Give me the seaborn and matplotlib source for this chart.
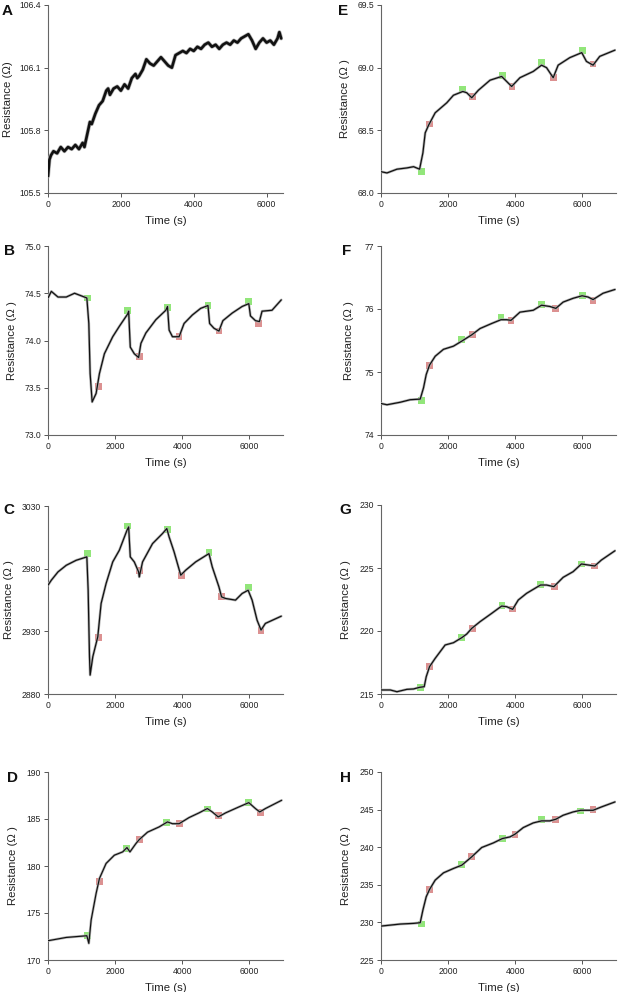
import matplotlib
matplotlib.use("Agg")
import matplotlib.pyplot as plt
import seaborn as sns
import pandas as pd

sns.set_style("ticks")
plt.rcParams['font.family'] = ['Liberation Sans', 'DejaVu Sans']

# ---------------- data ----------------
A_t = [0, 40, 80, 150, 250, 350, 450, 550, 650, 750, 850, 950, 1000, 1050, 1100, 1150, 1200, 1300,
       1400, 1500, 1600, 1650, 1700, 1800, 1900, 2000, 2100, 2200, 2300, 2400, 2450, 2500, 2600, 2700,
       2800, 2900, 3000, 3100, 3200, 3300, 3400, 3500, 3600, 3700, 3800, 3900, 4000, 4100, 4200, 4300,
       4400, 4500, 4600, 4700, 4800, 4900, 5000, 5100, 5200, 5300, 5400, 5500, 5600, 5700, 5800, 5900,
       6000, 6100, 6200, 6300, 6350, 6400]
A_r = [105.58, 105.66, 105.68, 105.70, 105.69, 105.72, 105.70, 105.72, 105.71, 105.73, 105.71, 105.74,
       105.72, 105.76, 105.80, 105.84, 105.83, 105.88, 105.92, 105.94, 105.99, 106.00, 105.97, 106.00,
       106.01, 105.99, 106.02, 106.00, 106.05, 106.07, 106.05, 106.06, 106.09, 106.14, 106.12, 106.11,
       106.13, 106.15, 106.13, 106.11, 106.10, 106.16, 106.17, 106.18, 106.17, 106.19, 106.18, 106.20,
       106.19, 106.21, 106.22, 106.20, 106.21, 106.19, 106.21, 106.22, 106.21, 106.23, 106.22, 106.24,
       106.25, 106.26, 106.23, 106.19, 106.22, 106.24, 106.22, 106.23, 106.21, 106.24, 106.27, 106.24]

B_t = [0, 99, 297, 544, 791, 1157, 1216, 1255, 1315, 1433, 1532, 1680, 1928, 2125, 2372, 2402, 2451,
       2570, 2699, 2768, 2916, 3213, 3509, 3559, 3608, 3707, 3905, 4053, 4300, 4547, 4765, 4814, 4943,
       5091, 5210, 5486, 5783, 5981, 6031, 6179, 6297, 6376, 6672, 6949]
B_r = [74.45, 74.52, 74.46, 74.46, 74.50, 74.45, 74.18, 73.65, 73.35, 73.44, 73.65, 73.86, 74.04, 74.15,
       74.28, 74.31, 73.93, 73.86, 73.82, 73.97, 74.08, 74.22, 74.32, 74.36, 74.11, 74.04, 74.04, 74.18,
       74.27, 74.34, 74.37, 74.18, 74.13, 74.10, 74.21, 74.29, 74.36, 74.39, 74.26, 74.21, 74.20, 74.31,
       74.32, 74.43]
B_green_t = [1166, 2372, 3549, 4765, 5980]
B_green_r = [74.45, 74.32, 74.35, 74.37, 74.41]
B_red_t = [1512, 2718, 3905, 5091, 6277]
B_red_r = [73.51, 73.83, 74.04, 74.10, 74.18]

C_t = [0, 99, 297, 544, 840, 1157, 1196, 1236, 1255, 1334, 1483, 1582, 1730, 1928, 2125, 2352, 2402,
       2451, 2570, 2699, 2718, 2817, 3114, 3410, 3539, 3608, 3756, 3954, 4102, 4399, 4794, 4893, 5091,
       5170, 5289, 5585, 5783, 5961, 6080, 6228, 6346, 6475, 6949]
C_r = [2966.8, 2970.8, 2977.4, 2982.7, 2986.7, 2989.4, 2962.8, 2909.7, 2895.1, 2909.7, 2925.7, 2952.2,
       2968.1, 2985.4, 2994.7, 3010.6, 3013.3, 2989.4, 2985.4, 2977.4, 2973.4, 2985.4, 3000.0, 3008.0,
       3012.0, 3005.3, 2993.4, 2974.8, 2978.8, 2985.4, 2992.0, 2981.4, 2965.5, 2957.5, 2956.2, 2954.9,
       2960.2, 2962.8, 2954.9, 2938.9, 2931.0, 2936.3, 2942.1]
C_green_t = [1176, 2372, 3559, 4794, 5980]
C_green_r = [2991.8, 3014.1, 3011.1, 2993.1, 2965.0]
C_red_t = [1512, 2718, 3984, 5170, 6346]
C_red_r = [2925.4, 2978.8, 2974.8, 2957.5, 2930.7]

D_t = [0, 544, 1157, 1216, 1285, 1433, 1532, 1730, 1977, 2224, 2352, 2441, 2619, 2718, 2965, 3311, 3559,
       3707, 3905, 4201, 4498, 4745, 4893, 5071, 5289, 5684, 5981, 6179, 6307, 6475, 6959]
D_r = [172.05, 172.4, 172.58, 171.77, 174.25, 177.08, 178.67, 180.27, 181.15, 181.5, 181.96, 181.5,
       182.39, 182.81, 183.6, 184.16, 184.69, 184.5, 184.5, 185.15, 185.65, 186.11, 185.75, 185.22,
       185.65, 186.28, 186.74, 186.11, 185.75, 186.11, 186.99]
D_green_t = [1186, 2343, 3539, 4745, 5980]
D_green_r = [172.6, 181.86, 184.65, 186.07, 186.74]
D_red_t = [1532, 2728, 3924, 5071, 6327]
D_red_r = [178.39, 182.85, 184.55, 185.36, 185.68]

E_t = [0, 178, 475, 772, 970, 1149, 1248, 1317, 1416, 1614, 1960, 2158, 2436, 2554, 2703, 2901, 3248,
       3594, 3743, 3891, 4139, 4535, 4782, 4931, 5129, 5277, 5624, 5980, 6119, 6317, 6515, 6970]
E_r = [68.17, 68.16, 68.19, 68.20, 68.21, 68.19, 68.32, 68.48, 68.54, 68.64, 68.72, 68.78, 68.81, 68.80,
       68.76, 68.82, 68.90, 68.93, 68.89, 68.85, 68.92, 68.97, 69.02, 69.00, 68.92, 69.02, 69.08, 69.12,
       69.05, 69.02, 69.09, 69.14]
E_green_t = [1198, 2436, 3614, 4792, 6000]
E_green_r = [68.17, 68.83, 68.94, 69.04, 69.14]
E_red_t = [1436, 2723, 3901, 5149, 6317]
E_red_r = [68.55, 68.77, 68.85, 68.92, 69.03]

F_t = [0, 178, 574, 871, 1168, 1267, 1347, 1446, 1614, 1861, 2158, 2406, 2703, 2950, 3297, 3574, 3743,
       3871, 4139, 4535, 4782, 5030, 5208, 5426, 5723, 5990, 6168, 6317, 6614, 6970]
F_r = [74.50, 74.48, 74.52, 74.56, 74.57, 74.75, 74.96, 75.11, 75.25, 75.36, 75.41, 75.49, 75.59, 75.69,
       75.77, 75.83, 75.83, 75.82, 75.95, 75.98, 76.06, 76.04, 76.01, 76.11, 76.17, 76.21, 76.19, 76.15,
       76.25, 76.31]
F_green_t = [1208, 2406, 3574, 4772, 6000]
F_green_r = [74.55, 75.52, 75.86, 76.07, 76.21]
F_red_t = [1446, 2723, 3871, 5198, 6317]
F_red_r = [75.10, 75.60, 75.82, 76.01, 76.14]

G_t = [0, 277, 475, 772, 970, 1149, 1287, 1347, 1446, 1614, 1911, 2158, 2406, 2554, 2703, 2950, 3297,
       3594, 3743, 3921, 4089, 4337, 4752, 4931, 5149, 5426, 5723, 5970, 6168, 6366, 6564, 6970]
G_r = [215.32, 215.32, 215.18, 215.37, 215.40, 215.53, 215.58, 216.37, 217.17, 217.83, 218.89, 219.07,
       219.47, 219.76, 220.21, 220.74, 221.40, 221.98, 221.93, 221.72, 222.46, 222.99, 223.65, 223.65,
       223.52, 224.26, 224.71, 225.32, 225.24, 225.16, 225.63, 226.37]
G_green_t = [1168, 2406, 3604, 4762, 5970]
G_green_r = [215.50, 219.47, 222.01, 223.68, 225.32]
G_red_t = [1446, 2723, 3921, 5159, 6366]
G_red_r = [217.17, 220.21, 221.74, 223.54, 225.16]

H_t = [0, 277, 574, 970, 1168, 1248, 1347, 1446, 1614, 1861, 2158, 2406, 2703, 3000, 3347, 3614, 3842,
       3990, 4238, 4535, 4782, 5030, 5208, 5426, 5723, 5950, 6168, 6317, 6564, 6970]
H_r = [229.51, 229.64, 229.78, 229.87, 229.96, 231.64, 233.41, 234.38, 235.62, 236.59, 237.17, 237.61,
       238.72, 239.96, 240.57, 241.15, 241.37, 241.73, 242.61, 243.23, 243.50, 243.50, 243.72, 244.25,
       244.69, 244.91, 244.91, 244.91, 245.35, 246.02]
H_green_t = [1198, 2406, 3614, 4782, 5950]
H_green_r = [229.78, 237.74, 241.15, 243.67, 244.82]
H_red_t = [1446, 2703, 3990, 5208, 6317]
H_red_r = [234.38, 238.72, 241.73, 243.72, 245.00]

x_ticks = [0, 2000, 4000, 6000]
A_yticks = [105.5, 105.8, 106.1, 106.4]
B_yticks = [73.0, 73.5, 74.0, 74.5, 75.0]
C_yticks = [2880, 2930, 2980, 3030]
D_yticks = [170, 175, 180, 185, 190]
E_yticks = [68.0, 68.5, 69.0, 69.5]
F_yticks = [74, 75, 76, 77]
G_yticks = [215, 220, 225, 230]
H_yticks = [225, 230, 235, 240, 245, 250]

# ---------------- figure ----------------
W, H = 618, 992
fig = plt.figure(figsize=(W / 100, H / 100), dpi=100)

GREEN = '#86e46c'
RED = '#d98585'

def px_axes(left, top, right, bottom):
    return fig.add_axes([left / W, 1 - bottom / H, (right - left) / W, (bottom - top) / H])

panels = [
    ('A', A_t, A_r, None, None, A_yticks, '{:.1f}', 6450, (48, 5, 283, 193), (2, 4), -0.150, 'Resistance (Ω)', 1.9),
    ('B', B_t, B_r, (B_green_t, B_green_r), (B_red_t, B_red_r), B_yticks, '{:.1f}', 7000, (48, 246, 283, 435), (4, 244), -0.130, 'Resistance (Ω )', 0.9),
    ('C', C_t, C_r, (C_green_t, C_green_r), (C_red_t, C_red_r), C_yticks, '{:.0f}', 7000, (48, 506, 283, 694), (3, 503), -0.143, 'Resistance (Ω )', 0.9),
    ('D', D_t, D_r, (D_green_t, D_green_r), (D_red_t, D_red_r), D_yticks, '{:.0f}', 7000, (48, 772, 283, 960), (7, 771), -0.126, 'Resistance (Ω )', 0.85),
    ('E', E_t, E_r, (E_green_t, E_green_r), (E_red_t, E_red_r), E_yticks, '{:.1f}', 7000, (381, 5, 616, 193), (338, 4), -0.134, 'Resistance (Ω )', 0.9),
    ('F', F_t, F_r, (F_green_t, F_green_r), (F_red_t, F_red_r), F_yticks, '{:.0f}', 7000, (381, 246, 616, 435), (342, 244), -0.113, 'Resistance (Ω )', 0.9),
    ('G', G_t, G_r, (G_green_t, G_green_r), (G_red_t, G_red_r), G_yticks, '{:.0f}', 7000, (381, 505, 616, 694), (339, 503), -0.126, 'Resistance (Ω )', 0.9),
    ('H', H_t, H_r, (H_green_t, H_green_r), (H_red_t, H_red_r), H_yticks, '{:.0f}', 7000, (381, 772, 616, 960), (340, 771), -0.126, 'Resistance (Ω )', 0.9),
]

for letter, t, r, green, red, yticks, fmt, xmax, box, lpos, ylx, ylab, lw in panels:
    ax = px_axes(*box)
    df = pd.DataFrame({'Time (s)': t, 'Resistance': r})
    if green is not None:
        sns.scatterplot(x=green[0], y=green[1], ax=ax, marker='s', s=24, color=GREEN,
                        edgecolor='none', alpha=0.9, zorder=2)
        sns.scatterplot(x=red[0], y=red[1], ax=ax, marker='s', s=24, color=RED,
                        edgecolor='none', alpha=0.9, zorder=2)
    sns.lineplot(data=df, x='Time (s)', y='Resistance', ax=ax, color='#b4b4b4',
                 lw=lw + 1.0, estimator=None, sort=False, zorder=3)
    sns.lineplot(data=df, x='Time (s)', y='Resistance', ax=ax, color='#111111',
                 lw=lw, estimator=None, sort=False, zorder=4)
    ax.set_xlim(0, xmax)
    ax.set_ylim(yticks[0], yticks[-1])
    ax.set_xticks(x_ticks)
    ax.set_xticklabels([str(v) for v in x_ticks])
    ax.set_yticks(yticks)
    ax.set_yticklabels([fmt.format(v) for v in yticks])
    ax.tick_params(axis='both', labelsize=6.2, length=3, width=0.7, colors='#555555',
                   labelcolor='#222222', pad=2)
    for s in ('top', 'right'):
        ax.spines[s].set_visible(False)
    for s in ('left', 'bottom'):
        ax.spines[s].set_color('#666666')
        ax.spines[s].set_linewidth(0.8)
    ax.set_xlabel('Time (s)', fontsize=8.2, color='#222222', labelpad=5)
    ax.set_ylabel(ylab, fontsize=8.2, color='#222222')
    ax.yaxis.set_label_coords(ylx, 0.5)
    fig.text(lpos[0] / W, 1 - lpos[1] / H, letter, fontsize=11, fontweight='bold',
             ha='left', va='top', color='#111111')

fig.savefig('out.png', dpi=100)
